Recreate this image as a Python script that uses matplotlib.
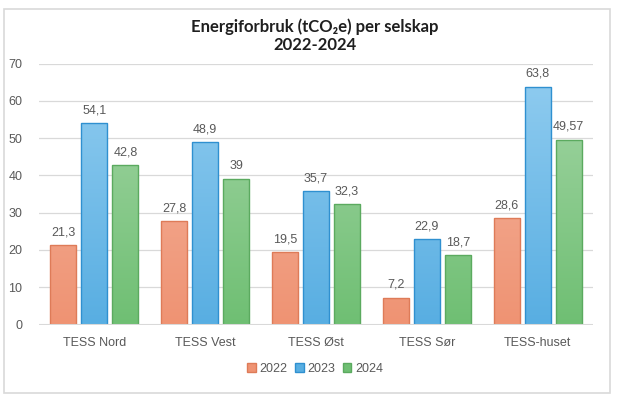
import matplotlib
matplotlib.use("Agg")
import matplotlib.pyplot as plt
import numpy as np
from matplotlib.patches import Rectangle, Patch
from matplotlib.colors import LinearSegmentedColormap

categories = ["TESS Nord", "TESS Vest", "TESS Øst", "TESS Sør", "TESS-huset"]
years = ["2022", "2023", "2024"]
v2022 = [21.3, 27.8, 19.5, 7.2, 28.6]
v2023 = [54.1, 48.9, 35.7, 22.9, 63.8]
v2024 = [42.8, 39, 32.3, 18.7, 49.57]
labels2022 = ["21,3", "27,8", "19,5", "7,2", "28,6"]
labels2023 = ["54,1", "48,9", "35,7", "22,9", "63,8"]
labels2024 = ["42,8", "39", "32,3", "18,7", "49,57"]
yticks = [0, 10, 20, 30, 40, 50, 60, 70]

series = [v2022, v2023, v2024]
series_labels = [labels2022, labels2023, labels2024]
tops = ["#F5B7A2", "#92CDF0", "#A5D6A7"]
bottoms = ["#EF9373", "#58AEE2", "#6FBF73"]
edges = ["#DE7B58", "#2F90D0", "#5BAA5F"]

plt.rcParams['font.family'] = ['Liberation Sans', 'DejaVu Sans']

fig = plt.figure(figsize=(6.17, 3.96), dpi=100)
fig.patch.set_facecolor("white")
# outer border
fig.add_artist(Rectangle((4/617, 3/396), 606/617, 384/396, transform=fig.transFigure,
                         fill=False, edgecolor="#D9D9D9", linewidth=1.2))

ax = fig.add_axes([39/617, 71.5/396, 554/617, 261/396])
ax.set_yticks(yticks)
ax.set_yticklabels([str(t) for t in yticks])
for t in yticks[1:]:
    ax.axhline(t, color="#D9D9D9", linewidth=0.9, zorder=0)
ax.axhline(0, color="#D9D9D9", linewidth=2.2, zorder=3)
for s in ax.spines.values():
    s.set_visible(False)
ax.tick_params(axis="both", length=0, colors="#595959", labelsize=9)
ax.tick_params(axis="y", pad=12)
ax.tick_params(axis="x", pad=9)
ax.set_xticks(range(len(categories)))
ax.set_xticklabels(categories)

bw = 0.235
step = 0.28
x = np.arange(len(categories))
for i, (vals, labs) in enumerate(zip(series, series_labels)):
    xs = x + (i - 1) * step
    cmap = LinearSegmentedColormap.from_list("g%d" % i, [bottoms[i], tops[i]])
    bars = ax.bar(xs, vals, width=bw, color="none", edgecolor=edges[i], linewidth=1.0,
                  zorder=2, label=years[i])
    for b in bars:
        grad = np.linspace(0, 1, 256).reshape(-1, 1)
        im = ax.imshow(grad, cmap=cmap, origin="lower", aspect="auto",
                       extent=[b.get_x(), b.get_x() + b.get_width(), 0, 70], zorder=1.5)
        im.set_clip_path(b)
    for xx, v, l in zip(xs, vals, labs):
        ax.text(xx, v + 1.8, l, ha="center", va="bottom", fontsize=9, color="#595959")
ax.set_xlim(-0.5, len(categories) - 0.5)
ax.set_ylim(0, 70)

handles = [Patch(facecolor=bottoms[i], edgecolor=edges[i], label=years[i]) for i in range(3)]
fig.legend(handles=handles, loc="center", bbox_to_anchor=(315/617, 1 - 369/396), ncol=3,
           frameon=False, fontsize=9, handlelength=0.7, handleheight=0.7, handletextpad=0.3,
           columnspacing=0.6, labelcolor="#595959")

fig.text(315/617, 1 - 27/396, "Energiforbruk (tCO₂e) per selskap", ha="center", va="center",
         fontsize=12, fontweight="bold", color="#1F1F1F", family=["Lato", "DejaVu Sans"])
fig.text(315/617, 1 - 45.5/396, "2022-2024", ha="center", va="center",
         fontsize=12, fontweight="bold", color="#1F1F1F", family=["Lato", "DejaVu Sans"])

fig.savefig("out.png", dpi=100, facecolor="white")
